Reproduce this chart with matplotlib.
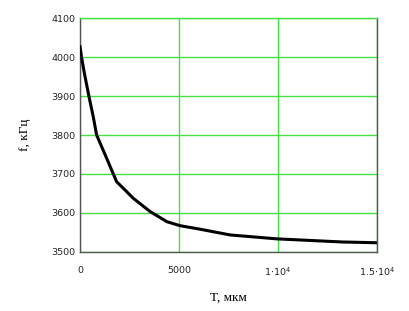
import matplotlib
matplotlib.use("Agg")
import matplotlib.pyplot as plt

# Data
T_vals = [0, 80, 220, 450, 670, 840, 1350, 1850, 2270, 2700, 3550, 4400, 5050, 6050, 7600, 9950, 13250, 15000]
f_vals = [4027, 4000, 3959, 3900, 3847, 3800, 3740, 3680, 3659, 3637, 3603, 3577, 3567, 3558, 3543, 3533, 3525, 3523]

x_ticks = [0, 5000, 10000, 15000]
x_tick_labels = ["0", "5000", r"1$\cdot$10$^{4}$", r"1.5$\cdot$10$^{4}$"]
y_ticks = [3500, 3600, 3700, 3800, 3900, 4000, 4100]
y_tick_labels = ["3500", "3600", "3700", "3800", "3900", "4000", "4100"]

fig = plt.figure(figsize=(4.09, 3.11), dpi=100)
ax = fig.add_axes([0.1956, 0.1907, 0.7254, 0.7503])

ax.plot(T_vals, f_vals, color="black", lw=2.2, zorder=3, solid_joinstyle="round")

ax.set_xlim(0, 15000)
ax.set_ylim(3500, 4100)
ax.set_xticks(x_ticks)
ax.set_xticklabels(x_tick_labels)
ax.set_yticks(y_ticks)
ax.set_yticklabels(y_tick_labels)
ax.tick_params(length=0, labelsize=6.8, colors="#222222")
ax.tick_params(axis="x", pad=10)
ax.tick_params(axis="y", pad=3)

ax.grid(True, color="#44e044", lw=1.0, zorder=1)
for s in ax.spines.values():
    s.set_color("#555555")
    s.set_linewidth(1.0)
ax.spines["top"].set_color("#44e044")

ax.set_xlabel("T, мкм", family="Liberation Serif", fontsize=9.5, labelpad=10)
ax.set_ylabel("f, кГц", family="Liberation Serif", fontsize=9.5, labelpad=15)

fig.savefig("out.png", dpi=100)
